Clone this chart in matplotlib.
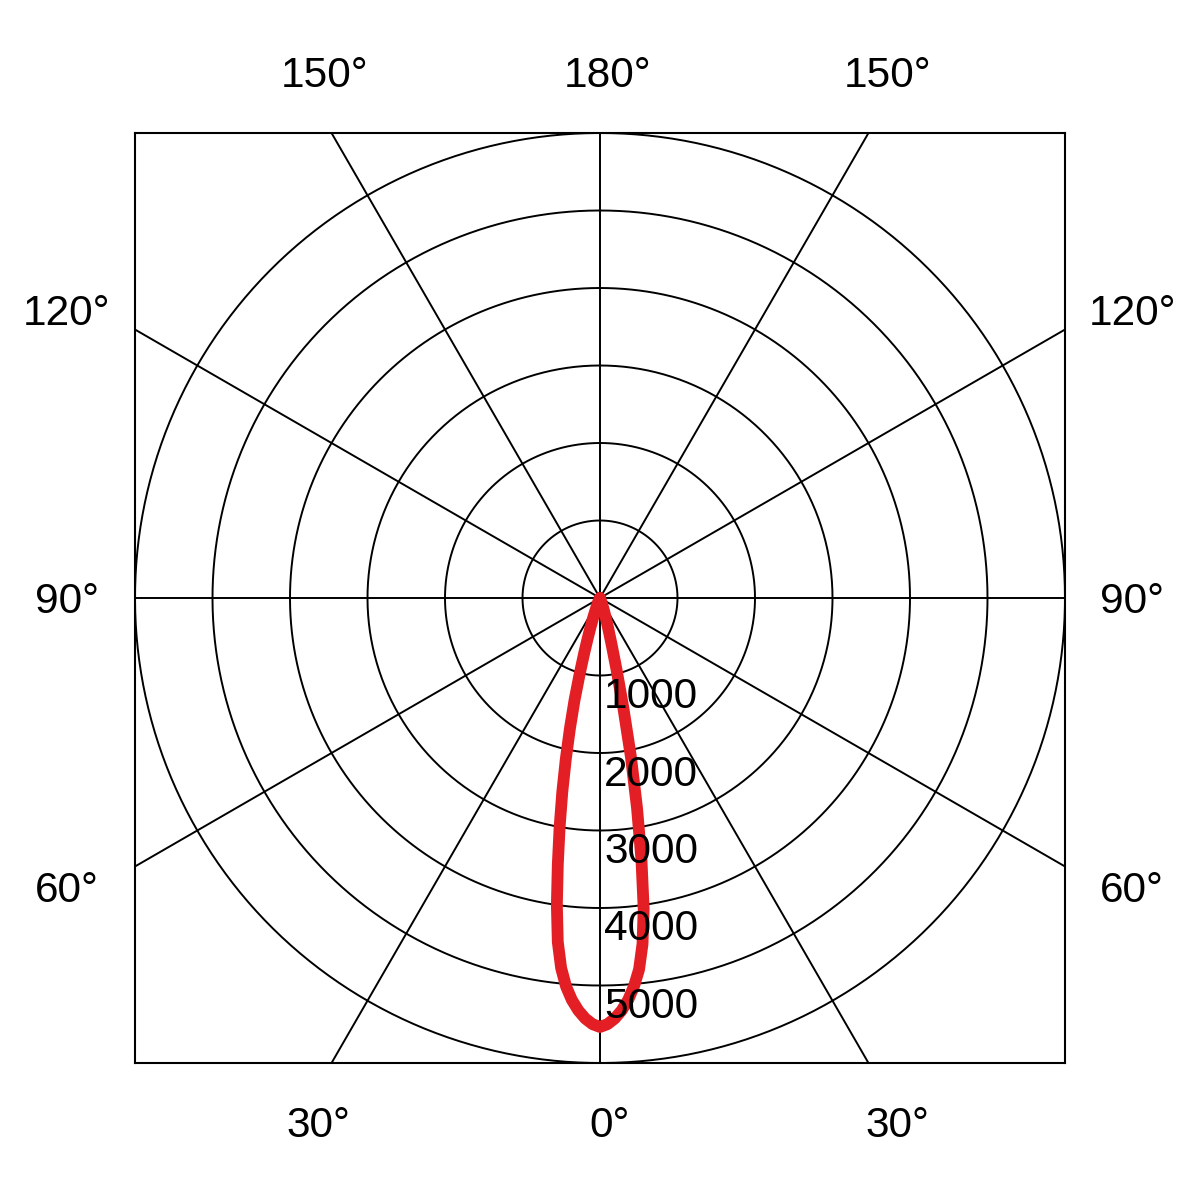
import numpy as np
import matplotlib

matplotlib.use("Agg")
import matplotlib.pyplot as plt

# gamma angle from nadir (deg) and luminous intensity (cd) on each half-plane
angles_deg = [0, 1, 2, 3, 4, 5, 6, 7, 8, 9, 10, 11, 12, 13, 14, 15, 16, 17, 18, 19, 20, 25, 30, 90]
intensity_left = [5535, 5500, 5430, 5330, 5200, 5030, 4800, 4470, 4000, 3480, 3000, 2550,
                  2120, 1720, 1360, 1010, 740, 540, 390, 280, 200, 60, 0, 0]
intensity_right = [5535, 5500, 5430, 5330, 5200, 5030, 4820, 4500, 4050, 3420, 2750, 2100,
                   1450, 950, 620, 420, 300, 200, 140, 90, 60, 0, 0, 0]

ring_values = [1000, 2000, 3000, 4000, 5000, 6000]
ring_labels = ["1000", "2000", "3000", "4000", "5000"]
spoke_angles = [0, 30, 60, 90, 120, 150]

# angle labels: (text, x_px, baseline_px)
angle_labels = [
    ("180°", 608, 87), ("150°", 325, 87), ("150°", 888, 87),
    ("120°", 67, 325), ("120°", 1132, 325),
    ("90°", 67, 613), ("90°", 1132, 613),
    ("60°", 67, 902), ("60°", 1132, 902),
    ("30°", 318, 1137), ("0°", 610, 1137), ("30°", 897, 1137),
]

plt.rcParams["font.family"] = ["Liberation Sans", "DejaVu Sans"]
rmax = ring_values[-1]

fig = plt.figure(figsize=(12, 12), dpi=100)
ax = fig.add_axes([135 / 1200, 137 / 1200, 930 / 1200, 930 / 1200])
ax.set_xlim(-rmax, rmax)
ax.set_ylim(-rmax, rmax)
ax.set_aspect("equal")
ax.set_xticks([])
ax.set_yticks([])
for spine in ax.spines.values():
    spine.set_linewidth(1.5)
    spine.set_color("black")

t = np.linspace(0, 2 * np.pi, 720)
for r in ring_values:
    ax.plot(r * np.cos(t), r * np.sin(t), color="black", lw=1.4, zorder=1)

for a in spoke_angles:
    rad = np.deg2rad(a)
    L = 3 * rmax
    ax.plot([-L * np.sin(rad), L * np.sin(rad)], [L * np.cos(rad), -L * np.cos(rad)],
            color="black", lw=1.4, zorder=1)

g = np.deg2rad(angles_deg)
il = np.array(intensity_left, dtype=float)
ir = np.array(intensity_right, dtype=float)
xs = np.concatenate([-il[::-1] * np.sin(g[::-1]), ir[1:] * np.sin(g[1:])])
ys = np.concatenate([-il[::-1] * np.cos(g[::-1]), -ir[1:] * np.cos(g[1:])])
ax.plot(xs, ys, color="#E31E24", lw=8.5, solid_joinstyle="round",
        solid_capstyle="round", zorder=3)

for r, lab in zip(ring_values, ring_labels):
    ax.annotate(lab, xy=(0, -r), xytext=(3, -32.5 * 0.72), textcoords="offset points",
                ha="left", va="baseline", fontsize=30.5, color="black", zorder=5)

for lab, x, y in angle_labels:
    fig.text(x / 1200, 1 - y / 1200, lab, ha="center", va="baseline",
             fontsize=30.5, color="black")

fig.savefig("out.png", dpi=100, facecolor="white")
